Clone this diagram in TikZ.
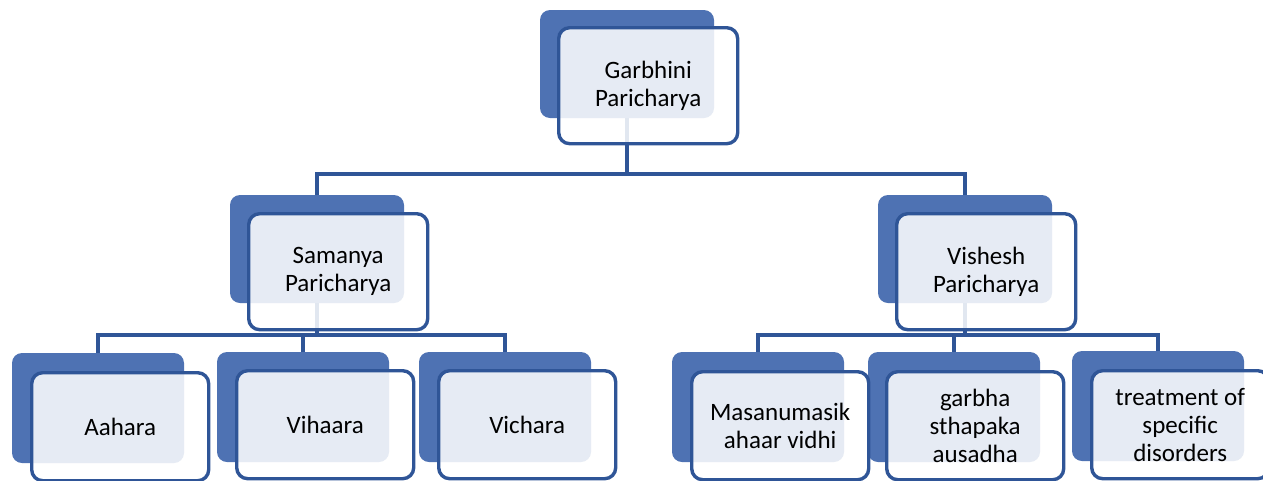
\documentclass[tikz,border=0pt]{standalone}
\usepackage{fontspec}
\setmainfont{Carlito}
\definecolor{boxblue}{HTML}{4E72B3}
\definecolor{lineblue}{HTML}{2F5597}

\begin{document}
\begin{tikzpicture}
    [x=1pt, y=-1pt,
    back/.style={fill=boxblue, rounded corners=10pt, inner sep=0pt, outer sep=0pt,
        minimum width=174pt, minimum height=108pt, anchor=north west},
    back low/.style={back, minimum width=172pt, minimum height=110pt},
    front/.style={draw=lineblue, line width=3.4pt, fill=white, fill opacity=0.86, text opacity=1,
        rounded corners=11pt, inner sep=0pt, minimum width=179pt, minimum height=116pt,
        anchor=north west, align=center, font=\fontsize{25}{28}\selectfont},
    front low/.style={front, minimum width=177pt, minimum height=108pt},
    link/.style={draw=lineblue, line width=3.6pt}
    ]
    \useasboundingbox (0,0) rectangle (1263,480);

    % back boxes
    \node[back] (garbhiniB) at (540,10) {};
    \node[back] (samanyaB) at (230,195) {};
    \node[back] (visheshB) at (878,195) {};
    \node[back low] (aaharaB) at (12,353) {};
    \node[back low] (vihaaraB) at (217,352) {};
    \node[back low] (vicharaB) at (419,352) {};
    \node[back low] (masaB) at (672,352) {};
    \node[back low] (sthapakaB) at (868,352) {};
    \node[back low] (disorderB) at (1072,351) {};

    % connectors
    \draw[link] (garbhiniB.south) -- ++(0,56) -| (samanyaB.north);
    \draw[link] (garbhiniB.south) -- ++(0,56) -| (visheshB.north);
    \draw[link] (samanyaB.south) -- ++(0,32) -| (aaharaB.north);
    \draw[link] (samanyaB.south) -- ++(0,32) -| (vihaaraB.north);
    \draw[link] (samanyaB.south) -- ++(0,32) -| (vicharaB.north);
    \draw[link] (visheshB.south) -- ++(0,32) -| (masaB.north);
    \draw[link] (visheshB.south) -- ++(0,32) -| (sthapakaB.north);
    \draw[link] (visheshB.south) -- ++(0,32) -| (disorderB.north);

    % front boxes
    \node[front] (garbhini) at (557,26) {Garbhini\\Paricharya};
    \node[front] (samanya) at (247,212) {Samanya\\Paricharya};
    \node[front] (vishesh) at (895,212) {Vishesh\\Paricharya};
    \node[front low] (aahara) at (30,371) {Aahara};
    \node[front low] (vihaara) at (235,369) {Vihaara};
    \node[front low] (vichara) at (437,369) {Vichara};
    \node[front low] (masa) at (690,370) {Masanumasik\\ahaar vidhi};
    \node[front low] (sthapaka) at (885,370) {garbha\\sthapaka\\ausadha};
    \node[front low] (disorder) at (1090,369) {treatment of\\specific\\disorders};
\end{tikzpicture}
\end{document}
